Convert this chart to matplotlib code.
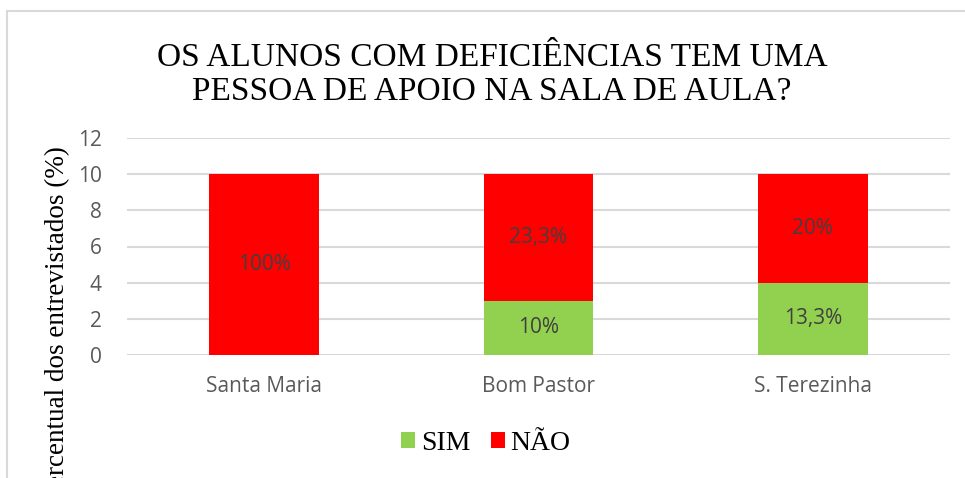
import numpy as np
import matplotlib.pyplot as plt
from matplotlib.patches import Rectangle

escolas = ['Santa Maria', 'Bom Pastor', 'S. Terezinha']
sim = [0, 3, 4]
nao = [10, 7, 6]
rot_sim = ['', '10%', '13,3%']
rot_nao = ['100%', '23,3%', '20%']
yticks = [0, 2, 4, 6, 8, 10, 12]

verde = '#92D050'
vermelho = '#FF0000'
cinza = '#D9D9D9'

fig = plt.figure(figsize=(9.65, 4.78), dpi=100)
W, H = 965, 478
# area do grafico em pixels: x 127..950, y 138..355
ax = fig.add_axes([127 / W, 1 - 355 / H, (950 - 127) / W, (355 - 138) / H])

x = np.arange(len(escolas))
ax.bar(x, sim, width=0.4, color=verde, label='SIM', zorder=3)
ax.bar(x, nao, width=0.4, bottom=sim, color=vermelho, label='NÃO', zorder=3)

for i in range(len(escolas)):
    if rot_sim[i]:
        ax.text(x[i], sim[i] / 2, rot_sim[i], ha='center', va='center',
                fontsize=15, color='#404040', family='Open Sans', zorder=4)
    ax.text(x[i], sim[i] + nao[i] / 2, rot_nao[i], ha='center', va='center',
            fontsize=15, color='#404040', family='Open Sans', zorder=4)

ax.set_xlim(-0.5, len(escolas) - 0.5)
ax.set_ylim(0, 12)
ax.set_yticks(yticks)
ax.set_xticks(x)
ax.set_xticklabels(escolas)
ax.grid(axis='y', color=cinza, linewidth=1.5, zorder=0)
ax.set_axisbelow(True)
for s in ax.spines.values():
    s.set_visible(False)
ax.tick_params(length=0, labelsize=15, labelcolor='#595959')
for lab in ax.get_xticklabels() + ax.get_yticklabels():
    lab.set_family('Open Sans')
ax.tick_params(axis='x', pad=15)
ax.tick_params(axis='y', pad=18)

fig.text(492 / W, 1 - 75 / H, 'OS ALUNOS COM DEFICIÊNCIAS TEM UMA\nPESSOA DE APOIO NA SALA DE AULA?',
         ha='center', va='center', fontsize=24, family='Liberation Serif',
         linespacing=1.15)

# no original o titulo do eixo passa da borda de baixo
fig.text(58 / W, 1 - 146 / H, 'Percentual dos entrevistados (%)', rotation=90,
         ha='center', va='top', fontsize=19.5, family='Liberation Serif')

fig.legend(loc='center', bbox_to_anchor=(486 / W, 1 - 443 / H), ncol=2,
           frameon=False, prop={'family': 'Liberation Serif', 'size': 20},
           handlelength=0.5, handleheight=0.5, handletextpad=0.2,
           columnspacing=0.75)

fig.patches.append(Rectangle((7 / W, -0.1), 1.2, 1 - 11 / H + 0.1,
                             transform=fig.transFigure, fill=False,
                             edgecolor=cinza, linewidth=1.5))

fig.savefig('out.png', dpi=100, facecolor='white')
